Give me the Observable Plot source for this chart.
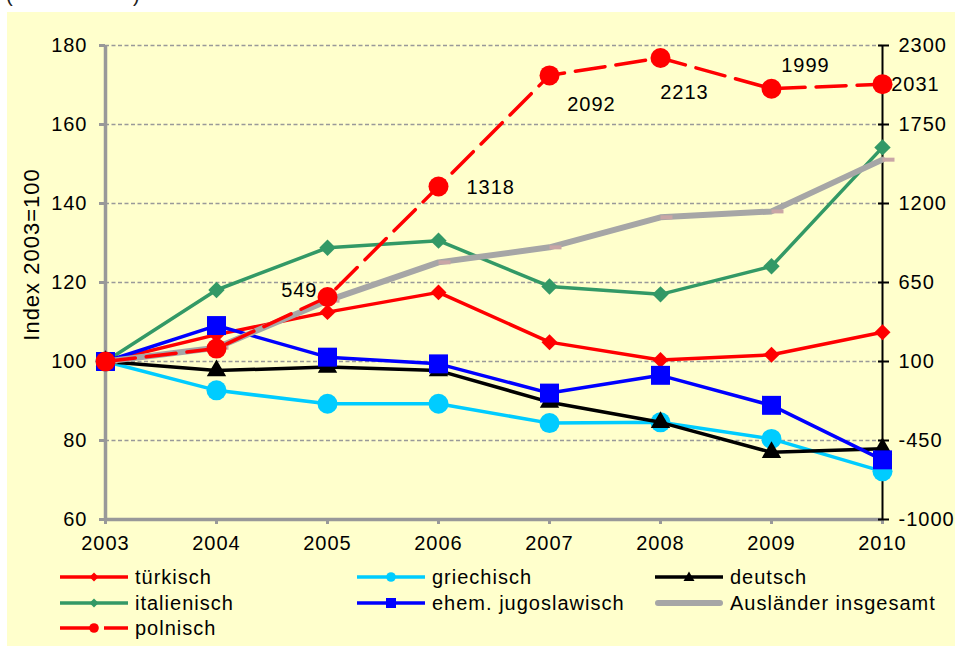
<!DOCTYPE html>
<html><head><meta charset="utf-8">
<script src="https://cdn.jsdelivr.net/npm/d3@7"></script>
<script src="https://cdn.jsdelivr.net/npm/@observablehq/plot@0.6"></script>
<style>
body{margin:0;background:#fff;font-family:"Liberation Sans",Arial,sans-serif;}
#wrap{position:relative;width:955px;height:646px;overflow:hidden;}
#panel{position:absolute;left:7px;top:12px;width:948px;height:634px;background:#FFFFCC;}
.paren{position:absolute;top:-16px;font-size:20px;color:#222;}
.leg{position:absolute;display:flex;align-items:center;height:24px;font-size:20px;letter-spacing:1px;color:#000;white-space:nowrap;}
.leg svg{margin-right:7px;flex:none;}
#chart{position:absolute;left:0;top:0;}
</style></head><body>
<div id="wrap"><span class="paren" style="left:6px">(</span><span class="paren" style="left:133px">)</span>
<div id="panel"><div id="chart"></div><div id="legend"></div></div></div>
<script>
// ---- data ----
const years = [2003, 2004, 2005, 2006, 2007, 2008, 2009, 2010];
const leftTicks = [60, 80, 100, 120, 140, 160, 180];
const rightTicks = [-1000, -450, 100, 650, 1200, 1750, 2300];
const tuerkisch    = [100, 106.8, 112.5, 117.5, 104.9, 100.4, 101.7, 107.4];
const griechisch   = [100, 92.7, 89.3, 89.3, 84.4, 84.6, 80.4, 72.2];
const deutsch      = [100, 97.7, 98.6, 97.7, 89.7, 84.6, 77.0, 77.9];
const italienisch  = [100, 118.1, 128.8, 130.6, 119.0, 117.0, 124.1, 154.2];
const jugoslawisch = [100, 109.1, 101.1, 99.4, 92.0, 96.5, 88.9, 75.1];
const auslaender   = [100, 103.5, 115.4, 125.1, 128.9, 136.5, 138.0, 151.1];
const polnisch     = [100, 190, 549, 1318, 2092, 2213, 1999, 2031];
const polnischLabels = ["", "", "549", "1318", "2092", "2213", "1999", "2031"];
const yTitle = "Index 2003=100";

// ---- helpers ----
const rows = vals => years.map((year, i) => ({year, value: vals[i]}));
const toLeft = v => leftTicks[0] + (v - rightTicks[0]) / (rightTicks[rightTicks.length-1] - rightTicks[0]) * (leftTicks[leftTicks.length-1] - leftTicks[0]);
const polData = years.map((year, i) => ({year, value: polnisch[i], label: polnischLabels[i]}));

const series = [
  {name: "türkisch", vals: tuerkisch, color: "#FF0000", symbol: "diamond2", r: 7.2},
  {name: "griechisch", vals: griechisch, color: "#00CCFF", symbol: "circle", r: 10},
  {name: "deutsch", vals: deutsch, color: "#000000", symbol: "triangle", r: 7.2},
  {name: "italienisch", vals: italienisch, color: "#339966", symbol: "diamond2", r: 7.4},
  {name: "ehem. jugoslawisch", vals: jugoslawisch, color: "#0000FF", symbol: "square", r: 10.7}
];

const dashSymbol = {draw(ctx) { ctx.moveTo(0, -2); ctx.lineTo(12, -2); ctx.lineTo(12, 2); ctx.lineTo(0, 2); ctx.closePath(); }};

const labelPos = [
  {year: 2005, dx: -10, dy: -6, anchor: "end"},
  {year: 2006, dx: 28, dy: 1, anchor: "start"},
  {year: 2007, dx: 42, dy: 29, anchor: "middle"},
  {year: 2008, dx: 24, dy: 35, anchor: "middle"},
  {year: 2009, dx: 34, dy: -23, anchor: "middle"},
  {year: 2010, dx: 33, dy: 0, anchor: "middle"}
];

const marks = [
  Plot.ruleY(leftTicks.slice(1), {y: d => d, stroke: "#999", strokeWidth: 1.5, strokeDasharray: "4,2.5"}),
  Plot.ruleX([years[0]], {stroke: "#999", strokeWidth: 3.5}),
  Plot.ruleY([leftTicks[0]], {stroke: "#999", strokeWidth: 3.5}),
  Plot.ruleX([years[years.length-1]], {stroke: "#000", strokeWidth: 2}),
  Plot.axisY({anchor: "left", ticks: leftTicks, tickSize: 6, tickPadding: 12, stroke: "#999", strokeWidth: 3, fill: "#000", tickFormat: d => String(d), label: null}),
  Plot.axisX({anchor: "bottom", ticks: years, tickSize: 5, tickPadding: 11, stroke: "#999", strokeWidth: 3, fill: "#000", tickFormat: d => String(d), label: null}),
  Plot.axisY({anchor: "right", ticks: leftTicks, tickSize: 11, dx: -5, stroke: "#000", strokeWidth: 2, fill: "none", tickFormat: () => "", label: null}),
  Plot.axisY({anchor: "right", ticks: leftTicks, tickSize: 6, tickPadding: 10, stroke: "none", fill: "#000", tickFormat: d => String(rightTicks[leftTicks.indexOf(d)]), label: null}),
  Plot.text([yTitle], {frameAnchor: "left", textAnchor: "middle", lineAnchor: "middle", rotate: -90, dx: -74, dy: -28, fontSize: 22, fill: "#000"})
];

for (const s of series) {
  const data = rows(s.vals);
  marks.push(Plot.line(data, {x: "year", y: "value", stroke: s.color, strokeWidth: 3.5}));
  marks.push(Plot.dot(data, {x: "year", y: "value", symbol: s.symbol, r: s.r, fill: s.color, stroke: "none"}));
}
marks.push(Plot.line(rows(auslaender), {x: "year", y: "value", stroke: "#A6A6A6", strokeWidth: 6}));
marks.push(Plot.dot(rows(auslaender), {x: "year", y: "value", symbol: dashSymbol, fill: "#C9A6A6", stroke: "none"}));
marks.push(Plot.line(polData, {x: "year", y: d => toLeft(d.value), stroke: "#FF0000", strokeWidth: 3.5, strokeDasharray: "30,11"}));
marks.push(Plot.dot(polData, {x: "year", y: d => toLeft(d.value), r: 10, fill: "#FF0000", stroke: "none"}));
for (const p of labelPos) {
  marks.push(Plot.text(polData.filter(d => d.label && d.year === p.year), {
    x: "year", y: d => toLeft(d.value), text: "label", dx: p.dx, dy: p.dy, textAnchor: p.anchor, fontSize: 20, fill: "#000"
  }));
}

const chart = Plot.plot({
  width: 948, height: 545,
  marginLeft: 98, marginRight: 73, marginTop: 33, marginBottom: 38,
  x: {type: "linear", domain: [years[0], years[years.length-1]]},
  y: {domain: [leftTicks[0], leftTicks[leftTicks.length-1]]},
  style: {background: "transparent", fontFamily: "'Liberation Sans', Arial, sans-serif", fontSize: "20px", letterSpacing: "1px", color: "#000", overflow: "visible"},
  marks
});
document.getElementById("chart").appendChild(chart);

// ---- legend ----
const legendItems = [
  {name: "türkisch", color: "#FF0000", marker: "diamond", col: 0, row: 0},
  {name: "griechisch", color: "#00CCFF", marker: "circle", col: 1, row: 0},
  {name: "deutsch", color: "#000000", marker: "triangle", col: 2, row: 0},
  {name: "italienisch", color: "#339966", marker: "diamond", col: 0, row: 1},
  {name: "ehem. jugoslawisch", color: "#0000FF", marker: "square", col: 1, row: 1},
  {name: "Ausländer insgesamt", color: "#A6A6A6", marker: "thick", col: 2, row: 1},
  {name: "polnisch", color: "#FF0000", marker: "dashcircle", col: 0, row: 2}
];
const colX = [53, 350, 648];
const rowY = [553, 579, 604];
function sample(it) {
  const c = it.color;
  let s = `<svg width="68" height="14" viewBox="0 0 68 14">`;
  if (it.marker === "thick") {
    s += `<line x1="3" x2="65" y1="7" y2="7" stroke="${c}" stroke-width="6" stroke-linecap="round"/>`;
  } else if (it.marker === "dashcircle") {
    s += `<line x1="0" x2="38" y1="7" y2="7" stroke="${c}" stroke-width="3.5"/>`;
    s += `<line x1="44" x2="68" y1="7" y2="7" stroke="${c}" stroke-width="3.5"/>`;
    s += `<circle cx="34" cy="7" r="4.8" fill="${c}"/>`;
  } else {
    s += `<line x1="0" x2="68" y1="7" y2="7" stroke="${c}" stroke-width="3.5"/>`;
    if (it.marker === "diamond") s += `<polygon points="34,2.5 38.5,7 34,11.5 29.5,7" fill="${c}"/>`;
    if (it.marker === "circle") s += `<circle cx="34" cy="7" r="4.8" fill="${c}"/>`;
    if (it.marker === "square") s += `<rect x="29" y="2" width="10" height="10" fill="${c}"/>`;
    if (it.marker === "triangle") s += `<polygon points="34,1.5 39.5,11 28.5,11" fill="${c}"/>`;
  }
  return s + `</svg>`;
}
const leg = document.getElementById("legend");
for (const it of legendItems) {
  const d = document.createElement("div");
  d.className = "leg";
  d.style.left = colX[it.col] + "px";
  d.style.top = rowY[it.row] + "px";
  d.innerHTML = sample(it) + `<span>${it.name}</span>`;
  leg.appendChild(d);
}
</script>
</body></html>
